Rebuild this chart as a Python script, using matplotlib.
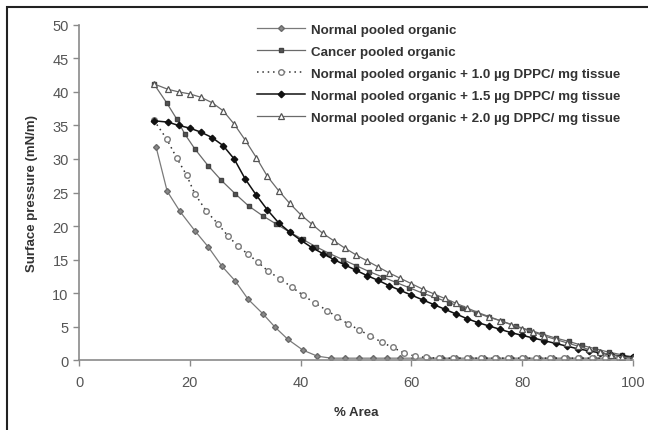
import matplotlib
matplotlib.use('Agg')
import matplotlib.pyplot as plt
from matplotlib.patches import Rectangle

plt.rcParams['font.family'] = ['Liberation Sans', 'DejaVu Sans']

# Normal pooled organic
normal_x = [13.9, 15.9, 18.2, 20.9, 23.3, 25.8, 28.2, 30.5, 33.2, 35.4, 37.7, 40.4, 43.0,
            45.5, 48.0, 50.5, 53.0, 55.5, 58.0, 60.5, 63.0, 65.5, 68.0, 70.5, 73.0, 75.5,
            78.0, 80.5, 83.0, 85.5, 88.0, 90.5, 93.0, 95.5, 98.0, 100.0]
normal_y = [31.8, 25.2, 22.2, 19.3, 16.9, 14.0, 11.8, 9.1, 6.9, 4.9, 3.1, 1.5, 0.6,
            0.3, 0.3, 0.3, 0.3, 0.3, 0.3, 0.3, 0.3, 0.3, 0.3, 0.3, 0.3, 0.3,
            0.3, 0.3, 0.3, 0.3, 0.3, 0.3, 0.3, 0.3, 0.3, 0.3]

# Cancer pooled organic
cancer_x = [13.5, 15.8, 17.6, 19.1, 20.9, 23.3, 25.7, 28.2, 30.6, 33.2, 35.6, 38.0, 40.4,
            42.8, 45.2, 47.6, 50.0, 52.4, 54.8, 57.2, 59.6, 62.0, 64.4, 66.8, 69.2, 71.6,
            74.0, 76.4, 78.8, 81.2, 83.6, 86.0, 88.4, 90.8, 93.2, 95.6, 98.0, 100.0]
cancer_y = [41.2, 38.4, 36.0, 33.7, 31.5, 29.0, 26.8, 24.8, 23.0, 21.5, 20.3, 19.1, 18.0,
            16.9, 15.9, 15.0, 14.1, 13.2, 12.4, 11.6, 10.8, 10.0, 9.3, 8.6, 7.8, 7.1,
            6.4, 5.8, 5.1, 4.5, 3.9, 3.3, 2.8, 2.2, 1.7, 1.2, 0.8, 0.5]

# Normal pooled organic + 1.0 ug DPPC/ mg tissue
dppc10_x = [13.5, 15.8, 17.6, 19.4, 20.9, 23.0, 25.1, 26.9, 28.7, 30.5, 32.3, 34.1, 36.3,
            38.4, 40.4, 42.6, 44.8, 46.6, 48.6, 50.6, 52.6, 54.6, 56.6, 58.6, 60.6, 62.6,
            65.0, 67.5, 70.0, 72.5, 75.0, 77.5, 80.0, 82.5, 85.0, 87.5, 90.0, 92.5, 95.0,
            97.5, 100.0]
dppc10_y = [35.8, 33.0, 30.2, 27.6, 24.8, 22.2, 20.3, 18.5, 17.0, 15.8, 14.6, 13.3, 12.1,
            10.9, 9.7, 8.5, 7.4, 6.4, 5.4, 4.5, 3.6, 2.7, 1.9, 1.1, 0.6, 0.4,
            0.3, 0.3, 0.3, 0.3, 0.3, 0.3, 0.3, 0.3, 0.3, 0.3, 0.3, 0.3, 0.3,
            0.3, 0.3]

# Normal pooled organic + 1.5 ug DPPC/ mg tissue
dppc15_x = [13.5, 16.0, 18.0, 20.0, 22.0, 24.0, 26.0, 28.0, 30.0, 32.0, 34.0, 36.0, 38.0,
            40.0, 42.0, 44.0, 46.0, 48.0, 50.0, 52.0, 54.0, 56.0, 58.0, 60.0, 62.0, 64.0,
            66.0, 68.0, 70.0, 72.0, 74.0, 76.0, 78.0, 80.0, 82.0, 84.0, 86.0, 88.0, 90.0,
            92.0, 94.0, 96.0, 98.0, 100.0]
dppc15_y = [35.7, 35.5, 35.0, 34.6, 34.0, 33.2, 32.0, 30.0, 27.0, 24.6, 22.4, 20.5, 19.1,
            17.9, 16.8, 15.9, 15.0, 14.2, 13.4, 12.6, 11.9, 11.1, 10.4, 9.7, 9.0, 8.3,
            7.6, 6.9, 6.2, 5.6, 5.1, 4.6, 4.1, 3.7, 3.3, 2.9, 2.5, 2.1, 1.7,
            1.4, 1.1, 0.8, 0.6, 0.4]

# Normal pooled organic + 2.0 ug DPPC/ mg tissue
dppc20_x = [13.5, 16.0, 18.0, 20.0, 22.0, 24.0, 26.0, 28.0, 30.0, 32.0, 34.0, 36.0, 38.0,
            40.0, 42.0, 44.0, 46.0, 48.0, 50.0, 52.0, 54.0, 56.0, 58.0, 60.0, 62.0, 64.0,
            66.0, 68.0, 70.0, 72.0, 74.0, 76.0, 78.0, 80.0, 82.0, 84.0, 86.0, 88.0, 90.0,
            92.0, 94.0, 96.0, 98.0, 100.0]
dppc20_y = [41.2, 40.4, 40.0, 39.7, 39.2, 38.4, 37.2, 35.2, 32.8, 30.2, 27.4, 25.3, 23.4,
            21.7, 20.3, 18.9, 17.8, 16.7, 15.7, 14.8, 13.9, 13.0, 12.2, 11.4, 10.6, 9.9,
            9.2, 8.5, 7.8, 7.1, 6.5, 5.9, 5.3, 4.7, 4.2, 3.6, 3.1, 2.6, 2.1,
            1.6, 1.2, 0.8, 0.5, 0.3]

labels = ['Normal pooled organic',
          'Cancer pooled organic',
          'Normal pooled organic + 1.0 \u00b5g DPPC/ mg tissue',
          'Normal pooled organic + 1.5 \u00b5g DPPC/ mg tissue',
          'Normal pooled organic + 2.0 \u00b5g DPPC/ mg tissue']

fig = plt.figure(figsize=(6.48, 4.31), dpi=100)
ax = fig.add_axes([0.122, 0.162, 0.855, 0.778])

ax.plot(normal_x, normal_y, color='#7a7a7a', lw=0.9, marker='D', ms=3.0,
        mfc='#8a8a8a', mec='#6a6a6a', label=labels[0])
ax.plot(cancer_x, cancer_y, color='#6a6a6a', lw=0.9, marker='s', ms=3.0,
        mfc='#555555', mec='#444444', label=labels[1])
ax.plot(dppc10_x, dppc10_y, color='#333333', lw=1.1, ls=(0, (1, 2.5)), marker='o', ms=4.0,
        mfc='white', mec='#7a7a7a', mew=1.0, label=labels[2])
ax.plot(dppc15_x, dppc15_y, color='#111111', lw=1.1, marker='D', ms=3.3,
        mfc='#111111', mec='#111111', label=labels[3])
ax.plot(dppc20_x, dppc20_y, color='#6a6a6a', lw=0.9, marker='^', ms=4.0,
        mfc='white', mec='#555555', mew=0.9, label=labels[4])

ax.set_xlim(0, 100)
ax.set_ylim(0, 50)
ax.set_xticks(range(0, 101, 20))
ax.set_yticks(range(0, 51, 5))
for s in ['top', 'right']:
    ax.spines[s].set_visible(False)
for s in ['left', 'bottom']:
    ax.spines[s].set_color('#8a8a8a')
    ax.spines[s].set_linewidth(1.2)
ax.tick_params(axis='both', direction='out', length=4, width=1, color='#8a8a8a',
               labelsize=10.5, labelcolor='#555555')
ax.tick_params(axis='x', pad=7)

ax.set_xlabel('% Area', fontsize=9.5, fontweight='bold', color='#333333', labelpad=12)
ax.set_ylabel('Surface pressure (mN/m)', fontsize=9.5, fontweight='bold',
              color='#333333', labelpad=10)

leg = ax.legend(loc='upper left', bbox_to_anchor=(0.30, 1.04), frameon=False,
                fontsize=9.6, handlelength=3.6, handletextpad=0.4, labelspacing=0.72)
for t in leg.get_texts():
    t.set_fontweight('bold')
    t.set_color('#333333')

# outer frame of the original figure (left and top edges visible)
fig.patches.append(Rectangle((7 / 648, -0.1), 1.2, 1 - 8 / 431 + 0.1,
                             transform=fig.transFigure, fill=False,
                             ec='#222222', lw=1.5, figure=fig))

fig.savefig('out.png', dpi=100)
